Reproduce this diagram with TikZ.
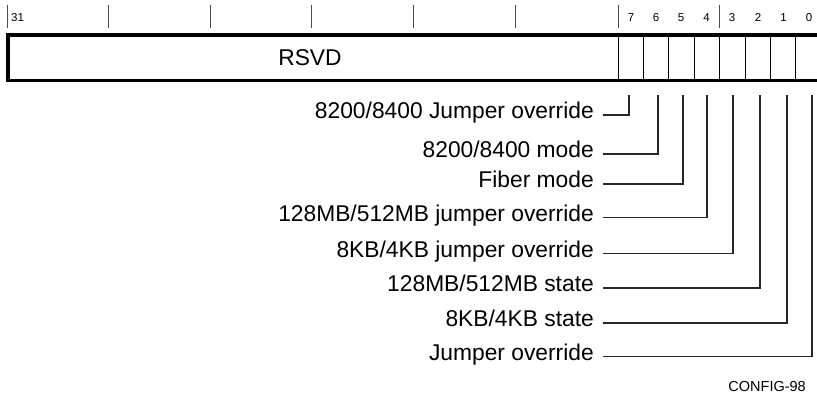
\documentclass[tikz,border=0pt]{standalone}
\usepackage{fontspec}
\setmainfont{Liberation Sans}
\begin{document}
\begin{tikzpicture}[x=1pt,y=-1pt,
  tick/.style={line width=0.9pt, black!70},
  bitnum/.style={font=\fontsize{11.5}{13}\selectfont, inner sep=0pt},
  fieldlabel/.style={font=\fontsize{22.8}{26}\selectfont, anchor=east, inner sep=0pt,
    text height=0.72em, text depth=0pt},
  leader/.style={line width=1.1pt, black!85},
  cell/.style={line width=1pt}]
  \clip (0,0) rectangle (817,402);
  \useasboundingbox (0,0) rectangle (817,402);

  % bit ruler above the register
  \foreach \x in {7,108.6,210.2,311.8,413.4,515,618,719.6}
    \draw[tick] (\x,5) -- (\x,28);
  \node[bitnum, anchor=west] (n31) at (11,17.5) {31};
  \foreach \b/\x in {7/631,6/656,5/681,4/706.5,3/732,2/758,1/783.5,0/809}
    \node[bitnum] (n\b) at (\x,17.5) {\b};

  % register outline and bit cells
  \draw[cell] (618,35) -- (618,80.5);
  \foreach \x in {643.4,668.8,694.2,719.6,745,770.4,795.8}
    \draw[cell] (\x,35) -- (\x,80.5);
  \draw[line width=3.2pt] (8,35) rectangle (840,80.5);
  \node[font=\fontsize{22.8}{26}\selectfont, inner sep=0pt] (rsvd) at (310,58) {RSVD};

  % field descriptions with their leaders
  \foreach \b/\x/\y/\t in {
      7/629/115/{8200/8400 Jumper override},
      6/658/154/{8200/8400 mode},
      5/683/184/{Fiber mode},
      4/707/217.5/{128MB/512MB jumper override},
      3/733/253.5/{8KB/4KB jumper override},
      2/760/288/{128MB/512MB state},
      1/787/323/{8KB/4KB state},
      0/812/356.5/{Jumper override}} {
    \coordinate (t\b) at (\x,95);
    \node[fieldlabel] (l\b) at (594,\y) {\t};
    \draw[leader] ([xshift=9pt]l\b.east) -| (t\b);
  }

  \node[font=\fontsize{14.5}{17}\selectfont, anchor=east, inner sep=0pt] (fig) at (806,387) {CONFIG-98};
\end{tikzpicture}
\end{document}
